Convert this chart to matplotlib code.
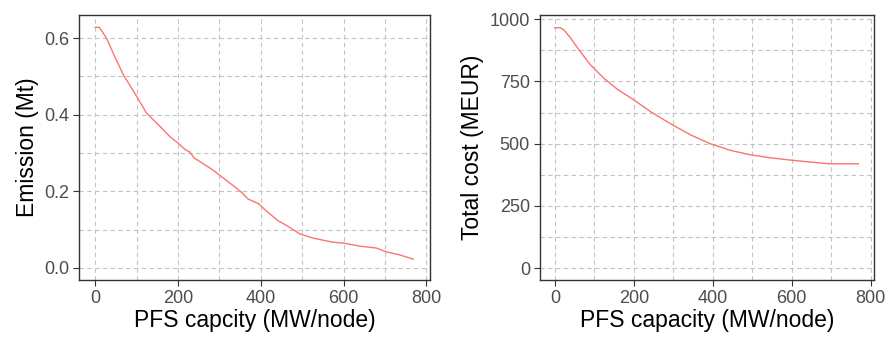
import numpy as np
import matplotlib.pyplot as plt
from matplotlib.ticker import MultipleLocator

plt.rcParams['font.family'] = ['Liberation Sans', 'DejaVu Sans']

# Emission vs PFS capacity
em_x = [0, 10, 27, 47, 68, 100, 124, 156, 180, 200, 217, 229, 239, 261, 285,
        309, 333, 354, 369, 394, 414, 442, 462, 494, 526, 575, 599, 639, 679,
        703, 736, 768]
em_y = [0.628, 0.628, 0.600, 0.552, 0.504, 0.448, 0.404, 0.370, 0.343, 0.326,
        0.309, 0.302, 0.287, 0.272, 0.255, 0.235, 0.215, 0.197, 0.180, 0.168,
        0.148, 0.123, 0.111, 0.089, 0.078, 0.067, 0.065, 0.057, 0.052, 0.042,
        0.034, 0.023]

# Total cost vs PFS capacity
cost_x = [0, 14, 23, 40, 61, 90, 124, 158, 200, 242, 293, 344, 395, 445, 496,
          547, 597, 648, 698, 769]
cost_y = [966, 966, 957, 924, 877, 817, 763, 719, 676, 629, 580, 535, 499,
          473, 455, 443, 434, 426, 419, 419]

line_col = '#F8766D'
grid_col = '#c4c4c4'
label_col = '#4d4d4d'

fig = plt.figure(figsize=(8.88, 3.38), dpi=100)
ax1 = fig.add_axes([0.0893, 0.1716, 0.3949, 0.7831])
ax2 = fig.add_axes([0.6078, 0.1716, 0.3764, 0.7831])


def style(ax):
    ax.xaxis.set_major_locator(MultipleLocator(200))
    ax.xaxis.set_minor_locator(MultipleLocator(100))
    ax.grid(which='both', color=grid_col, linestyle=(0, (4, 3)), linewidth=0.8)
    ax.set_axisbelow(True)
    for s in ax.spines.values():
        s.set_color('#333333')
        s.set_linewidth(1.0)
    ax.tick_params(which='major', direction='out', length=4, width=0.8,
                   color='#333333', labelsize=13, labelcolor=label_col, pad=3)
    ax.tick_params(which='minor', length=0)
    ax.set_xlim(-38.5, 808.5)


ax1.plot(em_x, em_y, color=line_col, linewidth=1.0)
style(ax1)
ax1.set_ylim(-0.0314, 0.6594)
ax1.yaxis.set_major_locator(MultipleLocator(0.2))
ax1.yaxis.set_minor_locator(MultipleLocator(0.1))
ax1.set_xlabel('PFS capcity (MW/node)', fontsize=16.5, labelpad=2)
ax1.set_ylabel('Emission (Mt)', fontsize=16.5, labelpad=4)

ax2.plot(cost_x, cost_y, color=line_col, linewidth=1.0)
style(ax2)
ax2.set_ylim(-48, 1016)
ax2.yaxis.set_major_locator(MultipleLocator(250))
ax2.yaxis.set_minor_locator(MultipleLocator(125))
ax2.set_xlabel('PFS capacity (MW/node)', fontsize=16.5, labelpad=2)
ax2.set_ylabel('Total cost (MEUR)', fontsize=16.5, labelpad=4)

fig.savefig('out.png', dpi=100)
